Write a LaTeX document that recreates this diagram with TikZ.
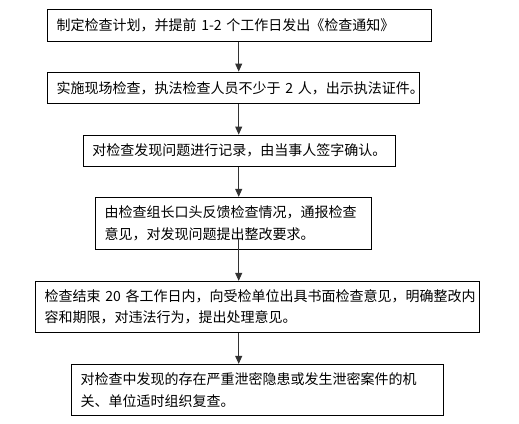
\documentclass[tikz,border=0pt]{standalone}
\usepackage{fontspec}
\setmainfont{Noto Sans CJK SC}
\usetikzlibrary{arrows.meta}
\tikzset{
  stepbox/.style={draw=black, line width=0.9pt, rectangle, inner xsep=9pt, inner ysep=0pt,
    align=left, font=\fontsize{14}{21.7}\selectfont},
  arr/.style={draw=black!80, line width=0.9pt, -{Triangle[width=7pt,length=8pt]}}
}
\newcommand{\bx}[6]{% name, cx, cy, w, h, text
  \node[stepbox, minimum width=#4pt, minimum height=#5pt, text width=#4pt-18pt] (#1) at (#2pt,-#3pt) {#6};}
\begin{document}
\begin{tikzpicture}
\useasboundingbox (0,0) rectangle (519pt,-423pt);
\bx{b1}{239.7}{25.3}{384}{32}{制定检查计划，并提前~1-2~个工作日发出《检查通知》}
\bx{b2}{233.5}{87.85}{371.6}{31.7}{实施现场检查，执法检查人员不少于~2~人，出示执法证件。}
\bx{b3}{239.5}{150.65}{312.4}{31.3}{对检查发现问题进行记录，由当事人签字确认。}
\bx{b4}{233.5}{223.3}{275.6}{52}{由检查组长口头反馈检查情况，通报检查\\意见，对发现问题提出整改要求。}
\bx{b5}{257.5}{306.8}{443.6}{51}{检查结束~20~各工作日内，向受检单位出具书面检查意见，明确整改内\\容和期限，对违法行为，提出处理意见。}
\bx{b6}{257.5}{389.8}{371.6}{51}{对检查中发现的存在严重泄密隐患或发生泄密案件的机\\关、单位适时组织复查。}
\coordinate (ax) at (238.7pt,0);
\coordinate (s4) at (238.7pt,-238pt);
\draw[arr] (b1.south -| ax) -- (b2.north -| ax);
\draw[arr] (b2.south -| ax) -- (b3.north -| ax);
\draw[arr] (b3.south -| ax) -- (b4.north -| ax);
\draw[arr] (s4) -- (b5.north -| ax);
\draw[arr] (b5.south -| ax) -- (b6.north -| ax);
\end{tikzpicture}
\end{document}
